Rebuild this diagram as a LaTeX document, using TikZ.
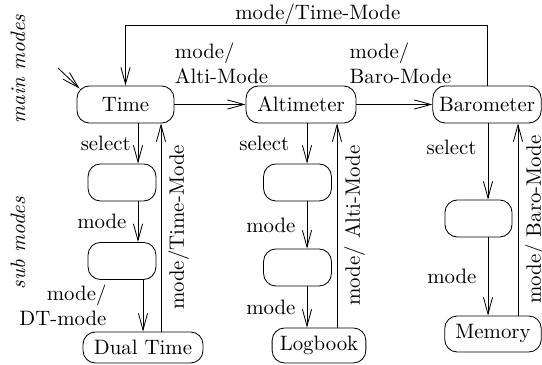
\documentclass[tikz,border=0pt]{standalone}
\usetikzlibrary{arrows.meta}
\tikzstyle{stateBox}=[shape = rectangle, rounded corners = 6pt, minimum height = 17.8pt, inner sep = 3pt, draw]
\tikzstyle{emptyBox}=[stateBox, minimum width = 32.6pt]
\tikzstyle{levelText}=[font = \itshape, rotate = 90]

\begin{document}
\begin{tikzpicture}[x = 0.48pt, y = -0.48pt, >={Straight Barb[length = 8pt, width = 4.4pt]}]
\useasboundingbox (0,0) rectangle (542,365);
\tikzstyle{trans}=[draw, ->]
\tikzstyle{sideLabel}=[midway, inner sep = 3.33pt]
\tikzstyle{backLabel}=[midway, sloped, below]
\node[levelText] (mainL) at (18,69) {main modes};
\node[levelText] (subL) at (18,243) {sub modes};
\node[stateBox, minimum width = 46.6pt] (Time) at (125.5,104.5) {Time};
\node[stateBox, minimum width = 52.8pt] (Alti) at (301,104.5) {Altimeter};
\node[stateBox, minimum width = 52pt] (Baro) at (487,104.5) {Barometer};
\node[emptyBox] (tb1) at (122,182.5) {};
\node[emptyBox] (tb2) at (122,261) {};
\node[stateBox, minimum width = 57.6pt, minimum height = 14.9pt] (DualTime) at (143,347.5) {Dual Time};
\node[emptyBox] (ab1) at (297.5,182.5) {};
\node[emptyBox] (ab2) at (297.5,267.5) {};
\node[stateBox, minimum width = 45pt, minimum height = 16.8pt] (Logbook) at (319,345.5) {Logbook};
\node[emptyBox, minimum width = 32.2pt] (bb1) at (478.5,218.5) {};
\node[stateBox, minimum width = 46.3pt, minimum height = 17.3pt] (Memory) at (493,334) {Memory};
\node[align = left] (altiL) at (221.5,63) {mode/\\Alti-Mode};
\node[align = left] (baroL) at (400.5,63) {mode/\\Baro-Mode};
\coordinate (init) at (58,68);
\coordinate (topLine) at (0,25);
\coordinate (tSel) at (138,0);
\coordinate (tDual) at (143,0);
\coordinate (tBack) at (161,0);
\coordinate (aSel) at (307,0);
\coordinate (aBack) at (337,0);
\coordinate (bSel) at (488,0);
\coordinate (bBack) at (518,0);
\draw[trans] (init) -- ([shift = {(3,3)}]Time.north west);
\draw[trans] (Time) -- (Alti);
\draw[trans] (Alti) -- (Baro);
\draw[trans] (Baro.north) -- (Baro.north |- topLine) -| node[pos = 0.234, above, inner sep = 0pt]{mode/Time-Mode} (Time.north);
\draw[trans] (Time.south -| tSel) -- node[sideLabel, left]{select} (tb1.north -| tSel);
\draw[trans] (tb1.south -| tSel) -- node[sideLabel, left = 2pt]{mode} (tb2.north -| tSel);
\draw[trans] (tb2.south -| tDual) -- node[sideLabel, left = 14pt, align = right]{mode/\\DT-mode} (DualTime.north -| tDual);
\draw[trans] (DualTime.north -| tBack) -- node[backLabel]{mode/Time-Mode} (Time.south -| tBack);
\draw[trans] (Alti.south -| aSel) -- node[sideLabel, left = 5pt]{select} (ab1.north -| aSel);
\draw[trans] (ab1.south -| aSel) -- node[sideLabel, left = 2pt]{mode} (ab2.north -| aSel);
\draw[trans] (ab2.south -| aSel) -- node[sideLabel, left = 2pt]{mode} (Logbook.north -| aSel);
\draw[trans] (Logbook.north -| aBack) -- node[backLabel]{mode/ Alti-Mode} (Alti.south -| aBack);
\draw[trans] (Baro.south -| bSel) -- node[sideLabel, left = 2pt, pos = 0.31]{select} (bb1.north -| bSel);
\draw[trans] (bb1.south -| bSel) -- node[sideLabel, left = 2pt]{mode} (Memory.north -| bSel);
\draw[trans] (Memory.north -| bBack) -- node[backLabel]{mode/ Baro-Mode} (Baro.south -| bBack);
\end{tikzpicture}
\end{document}
